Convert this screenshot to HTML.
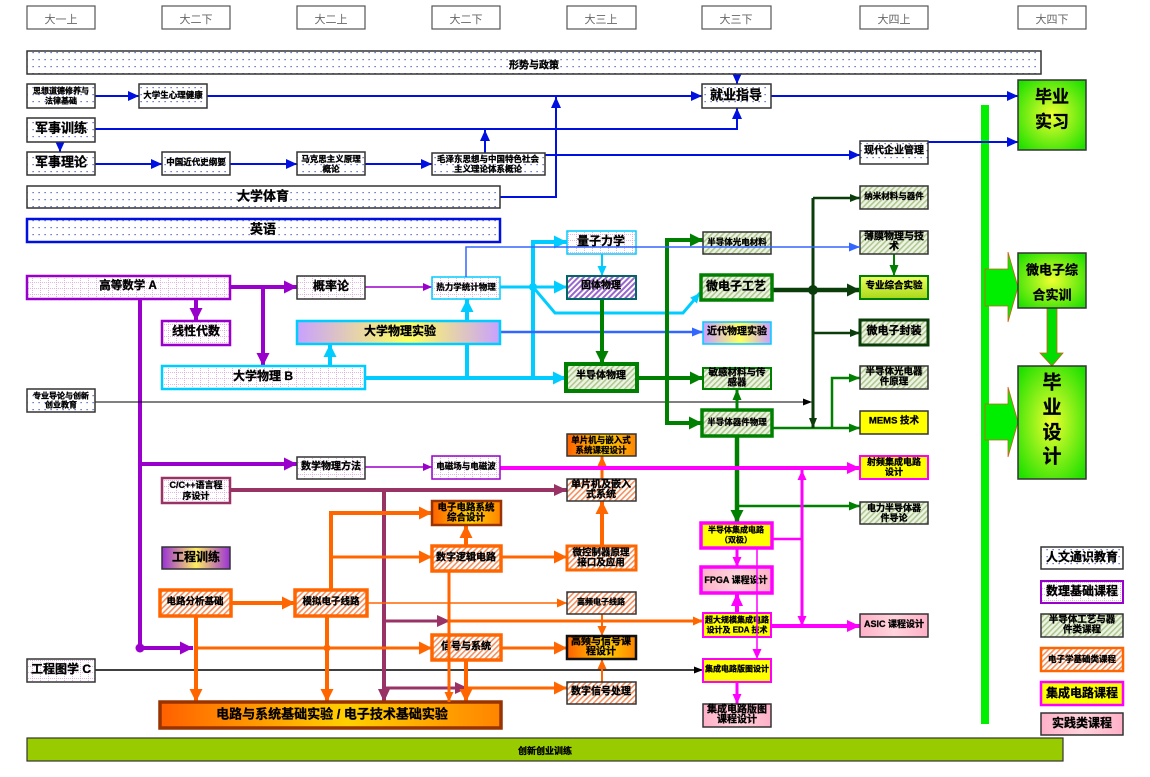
<!DOCTYPE html>
<html><head><meta charset="utf-8">
<style>
html,body{margin:0;padding:0;background:#fff;}
svg{display:block;}
text{font-family:"Liberation Sans","Noto Sans CJK SC","WenQuanYi Zen Hei",sans-serif;font-weight:bold;text-anchor:middle;dominant-baseline:central;fill:#000;stroke:#000;stroke-width:0.3px;}
.h{font-weight:normal;fill:#666;stroke:none;font-size:11px;}
</style></head><body>
<svg width="1150" height="777" viewBox="0 0 1150 777" xmlns="http://www.w3.org/2000/svg">
<defs>
<pattern id="dots" width="6" height="7" patternUnits="userSpaceOnUse"><rect width="6" height="7" fill="#fff"/><rect x="2.5" y="3" width="1.2" height="1.2" fill="#4050b0"/></pattern>
<pattern id="grid" width="8" height="6" patternUnits="userSpaceOnUse"><rect width="8" height="6" fill="#fff"/><path d="M0,0.5H8M0.5,0V6" stroke="#e0a0e0" stroke-width="0.8" stroke-dasharray="1,1"/></pattern>
<pattern id="gs" width="4" height="4" patternUnits="userSpaceOnUse" patternTransform="rotate(45)"><rect width="4" height="4" fill="#eef4e4"/><rect width="1.6" height="4" fill="#b0c890"/></pattern>
<pattern id="os" width="4" height="4" patternUnits="userSpaceOnUse" patternTransform="rotate(45)"><rect width="4" height="4" fill="#fff"/><rect width="1.6" height="4" fill="#f39060"/></pattern>
<pattern id="ps" width="4" height="4" patternUnits="userSpaceOnUse" patternTransform="rotate(45)"><rect width="4" height="4" fill="#fff"/><rect width="2" height="4" fill="#9966cc"/></pattern>
<radialGradient id="gg" cx="50%" cy="50%" r="65%"><stop offset="0" stop-color="#f0ff30"/><stop offset="1" stop-color="#20e000"/></radialGradient>
<linearGradient id="py"><stop offset="0" stop-color="#c8a0ff"/><stop offset=".55" stop-color="#ffff60"/><stop offset="1" stop-color="#c8a0ff"/></linearGradient>
<linearGradient id="pyd"><stop offset="0" stop-color="#9a30d8"/><stop offset=".5" stop-color="#ffee60"/><stop offset="1" stop-color="#9a30d8"/></linearGradient>
<linearGradient id="oy"><stop offset="0" stop-color="#ff6000"/><stop offset=".55" stop-color="#ffd000"/><stop offset="1" stop-color="#ff8400"/></linearGradient>
<linearGradient id="yg" x1="0" y1="0" x2="0" y2="1"><stop offset="0" stop-color="#eeff60"/><stop offset="1" stop-color="#a8d818"/></linearGradient>
<linearGradient id="pk"><stop offset="0" stop-color="#ffb0c8"/><stop offset=".5" stop-color="#ffd4dc"/><stop offset="1" stop-color="#ffb0c8"/></linearGradient>

<marker id="aB" viewBox="0 0 10 10" refX="10" refY="5" markerWidth="11" markerHeight="10" markerUnits="userSpaceOnUse" orient="auto" preserveAspectRatio="none"><path d="M0,0L10,5L0,10z" fill="#0010e0"/></marker>
<marker id="aP" viewBox="0 0 10 10" refX="10" refY="5" markerWidth="13" markerHeight="13" markerUnits="userSpaceOnUse" orient="auto" preserveAspectRatio="none"><path d="M0,0L10,5L0,10z" fill="#9900cc"/></marker>
<marker id="aPs" viewBox="0 0 10 10" refX="10" refY="5" markerWidth="9" markerHeight="8" markerUnits="userSpaceOnUse" orient="auto" preserveAspectRatio="none"><path d="M0,0L10,5L0,10z" fill="#9900cc"/></marker>
<marker id="aC" viewBox="0 0 10 10" refX="10" refY="5" markerWidth="13" markerHeight="13" markerUnits="userSpaceOnUse" orient="auto" preserveAspectRatio="none"><path d="M0,0L10,5L0,10z" fill="#00ccff"/></marker>
<marker id="aCs" viewBox="0 0 10 10" refX="10" refY="5" markerWidth="10" markerHeight="9" markerUnits="userSpaceOnUse" orient="auto" preserveAspectRatio="none"><path d="M0,0L10,5L0,10z" fill="#00ccff"/></marker>
<marker id="aL" viewBox="0 0 10 10" refX="10" refY="5" markerWidth="11" markerHeight="9" markerUnits="userSpaceOnUse" orient="auto" preserveAspectRatio="none"><path d="M0,0L10,5L0,10z" fill="#3366ff"/></marker>
<marker id="aG" viewBox="0 0 10 10" refX="10" refY="5" markerWidth="13" markerHeight="13" markerUnits="userSpaceOnUse" orient="auto" preserveAspectRatio="none"><path d="M0,0L10,5L0,10z" fill="#008000"/></marker>
<marker id="aGs" viewBox="0 0 10 10" refX="10" refY="5" markerWidth="11" markerHeight="9" markerUnits="userSpaceOnUse" orient="auto" preserveAspectRatio="none"><path d="M0,0L10,5L0,10z" fill="#008000"/></marker>
<marker id="aD" viewBox="0 0 10 10" refX="10" refY="5" markerWidth="13" markerHeight="13" markerUnits="userSpaceOnUse" orient="auto" preserveAspectRatio="none"><path d="M0,0L10,5L0,10z" fill="#0a3d0a"/></marker>
<marker id="aDs" viewBox="0 0 10 10" refX="10" refY="5" markerWidth="10" markerHeight="8" markerUnits="userSpaceOnUse" orient="auto" preserveAspectRatio="none"><path d="M0,0L10,5L0,10z" fill="#0a3d0a"/></marker>
<marker id="aK" viewBox="0 0 10 10" refX="10" refY="5" markerWidth="9" markerHeight="7" markerUnits="userSpaceOnUse" orient="auto" preserveAspectRatio="none"><path d="M0,0L10,5L0,10z" fill="#000"/></marker>
<marker id="aM" viewBox="0 0 10 10" refX="10" refY="5" markerWidth="13" markerHeight="12" markerUnits="userSpaceOnUse" orient="auto" preserveAspectRatio="none"><path d="M0,0L10,5L0,10z" fill="#993366"/></marker>
<marker id="aO" viewBox="0 0 10 10" refX="10" refY="5" markerWidth="13" markerHeight="13" markerUnits="userSpaceOnUse" orient="auto" preserveAspectRatio="none"><path d="M0,0L10,5L0,10z" fill="#ff6600"/></marker>
<marker id="aOs" viewBox="0 0 10 10" refX="10" refY="5" markerWidth="10" markerHeight="9" markerUnits="userSpaceOnUse" orient="auto" preserveAspectRatio="none"><path d="M0,0L10,5L0,10z" fill="#ff6600"/></marker>
<marker id="aMg" viewBox="0 0 10 10" refX="10" refY="5" markerWidth="13" markerHeight="12" markerUnits="userSpaceOnUse" orient="auto" preserveAspectRatio="none"><path d="M0,0L10,5L0,10z" fill="#ff00ff"/></marker>
<marker id="aMgs" viewBox="0 0 10 10" refX="10" refY="5" markerWidth="10" markerHeight="9" markerUnits="userSpaceOnUse" orient="auto" preserveAspectRatio="none"><path d="M0,0L10,5L0,10z" fill="#ff00ff"/></marker>
</defs>

<!-- header -->
<g fill="#fff" stroke="#555" stroke-width="1.2">
<rect x="27" y="6" width="68" height="23"/><rect x="162" y="6" width="68" height="23"/><rect x="297" y="6" width="68" height="23"/><rect x="432" y="6" width="68" height="23"/><rect x="567" y="6" width="69" height="23"/><rect x="702" y="6" width="69" height="23"/><rect x="860" y="6" width="68" height="23"/><rect x="1018" y="6" width="68" height="23"/>
</g>
<text class="h" x="61" y="20">大一上</text><text class="h" x="196" y="20">大二下</text><text class="h" x="331" y="20">大二上</text><text class="h" x="466" y="20">大二下</text><text class="h" x="601" y="20">大三上</text><text class="h" x="736" y="20">大三下</text><text class="h" x="894" y="20">大四上</text><text class="h" x="1052" y="20">大四下</text>

<!-- green bar + block arrows -->
<rect x="981" y="105" width="8" height="619" fill="#00ee00"/>
<polygon points="985,269 1008,269 1008,252 1018,287 1008,322 1008,306 985,306" fill="#00ee00" stroke="#d06010" stroke-width="0.8"/>
<polygon points="985,404 1008,404 1008,387 1018,422 1008,457 1008,440 985,440" fill="#00ee00" stroke="#d06010" stroke-width="0.8"/>
<polygon points="1047,308 1057,308 1057,353 1063,353 1052,366 1040,353 1047,353" fill="#00dd00" stroke="#d06010" stroke-width="0.8"/>

<!-- blue lines -->
<g fill="none" stroke="#0010e0" stroke-width="2">
<path d="M95,96H139" marker-end="url(#aB)"/>
<path d="M207,96H702" marker-end="url(#aB)"/>
<path d="M771,96H1018" marker-end="url(#aB)"/>
<path d="M737,74V84" marker-end="url(#aB)"/>
<path d="M95,129H737V108" marker-end="url(#aB)"/>
<path d="M485,153V130" marker-end="url(#aB)"/>
<path d="M60,142V152" marker-end="url(#aB)"/>
<path d="M95,164H162" marker-end="url(#aB)"/>
<path d="M230,164H297" marker-end="url(#aB)"/>
<path d="M365,164H432" marker-end="url(#aB)"/>
<path d="M545,155H860" marker-end="url(#aB)"/>
<path d="M928,142H1018" marker-end="url(#aB)"/>
<path d="M500,197H556V97" marker-end="url(#aB)"/>
</g>

<!-- purple -->
<g fill="none" stroke="#9900cc" stroke-width="4">
<path d="M230,287H297" marker-end="url(#aP)"/>
<path d="M263,287V366" marker-end="url(#aP)"/>
<path d="M196,299V321" marker-end="url(#aP)"/>
<path d="M140,299V648H193" marker-end="url(#aP)"/>
<path d="M140,464H297" marker-end="url(#aP)"/>
</g>
<circle cx="140" cy="648" r="4.5" fill="#9900cc"/>
<g fill="none" stroke="#9900cc" stroke-width="1.5">
<path d="M365,287H432" marker-end="url(#aPs)"/>
<path d="M365,467H432" marker-end="url(#aPs)"/>
</g>

<!-- black -->
<path d="M95,402H812" fill="none" stroke="#000" stroke-width="1" marker-end="url(#aK)"/>
<path d="M95,670H703" fill="none" stroke="#000" stroke-width="1.5" marker-end="url(#aK)"/>

<!-- cyan -->
<g fill="none" stroke="#00ccff" stroke-width="4">
<path d="M365,378H566" marker-end="url(#aC)"/>
<path d="M330,366V344" marker-end="url(#aC)"/>
<path d="M467,378V299" marker-end="url(#aC)"/>
<path d="M533,378V242H567" marker-end="url(#aC)"/>
</g>
<g fill="none" stroke="#00ccff" stroke-width="3">
<path d="M500,287H567" marker-end="url(#aC)"/>
<path d="M533,287L555,313H683L700,293" marker-end="url(#aCs)"/>
</g>
<circle cx="533" cy="287" r="4" fill="#00ccff"/>
<path d="M602,254V276" fill="none" stroke="#00ccff" stroke-width="2" marker-end="url(#aCs)"/>

<!-- light blue -->
<path d="M500,332H703" fill="none" stroke="#3366ff" stroke-width="2.5" marker-end="url(#aL)"/>

<!-- green -->
<g fill="none" stroke="#008000" stroke-width="4">
<path d="M602,299V364" marker-end="url(#aG)"/>
<path d="M637,378H703" marker-end="url(#aG)"/>
<path d="M667,300V240H703" marker-end="url(#aG)"/>
<path d="M667,240V423H702" marker-end="url(#aG)"/>
<path d="M737,436V523" marker-end="url(#aG)" stroke-width="4.5"/>
</g>
<g fill="none" stroke="#008000" stroke-width="2.5">
<path d="M737,410V389" marker-end="url(#aGs)" stroke-width="3"/>
<path d="M737,506H860" marker-end="url(#aGs)"/>
<path d="M772,428H860" marker-end="url(#aGs)"/>
<path d="M832,428V378H860" marker-end="url(#aGs)"/>
<path d="M894,254V276" marker-end="url(#aGs)" stroke-width="2"/>
</g>
<!-- dark green -->
<g fill="none" stroke="#0a3d0a">
<path d="M772,290H860" stroke-width="4.5" marker-end="url(#aD)"/>
<path d="M813,198V428" stroke-width="3" marker-end="url(#aDs)"/>
<path d="M813,198H860" stroke-width="2.5" marker-end="url(#aDs)"/>
<path d="M813,333H860" stroke-width="2.5" marker-end="url(#aDs)"/>
</g>
<circle cx="813" cy="290" r="5" fill="#0a3d0a"/>

<!-- maroon -->
<g fill="none" stroke="#993366" stroke-width="4">
<path d="M230,490H567" marker-end="url(#aM)"/>
<path d="M384,490V702" marker-end="url(#aM)"/>
<path d="M384,621H450" stroke-width="3" marker-end="url(#aM)"/>
<path d="M384,688H468" stroke-width="3" marker-end="url(#aM)"/>
</g>

<!-- orange -->
<g fill="none" stroke="#ff6600" stroke-width="4">
<path d="M231,603H295" marker-end="url(#aO)"/>
<path d="M196,616V702" marker-end="url(#aO)"/>
<path d="M327,616V702" marker-end="url(#aO)"/>
<path d="M331,590V513H432" marker-end="url(#aO)"/>
<path d="M466,546V525" marker-end="url(#aO)"/>
<path d="M602,546V501" marker-end="url(#aO)"/>
<path d="M466,660V702" marker-end="url(#aO)"/>
</g>
<g fill="none" stroke="#ff6600" stroke-width="3">
<path d="M196,648H432" marker-end="url(#aO)"/>
<path d="M331,557H432" marker-end="url(#aO)"/>
<path d="M501,557H567" marker-end="url(#aO)"/>
<path d="M602,479V456" marker-end="url(#aOs)"/>
<path d="M450,621H703" marker-end="url(#aOs)"/>
<path d="M501,648H567" marker-end="url(#aO)"/>
<path d="M468,688H567" marker-end="url(#aO)"/>
<path d="M367,603H567" stroke-width="1.5" marker-end="url(#aOs)"/>
<path d="M602,614V636" stroke-width="2" marker-end="url(#aOs)"/>
<path d="M602,682V659" stroke-width="2" marker-end="url(#aOs)"/>
</g>
<circle cx="327" cy="648" r="3.5" fill="#ff6600"/>

<!-- magenta -->
<g fill="none" stroke="#ff00ff" stroke-width="4">
<path d="M500,468H860" marker-end="url(#aMg)"/>
<path d="M771,626H860" marker-end="url(#aMg)"/>
<path d="M737,613V593" marker-end="url(#aMg)"/>
</g>
<g fill="none" stroke="#ff00ff" stroke-width="3">
<path d="M802,539V470" marker-end="url(#aMgs)"/>
<path d="M802,539V626" marker-end="url(#aMgs)"/>
<path d="M772,539H802" stroke-width="2.5"/>
<path d="M737,548V567" marker-end="url(#aMgs)"/>
<path d="M737,682V704" marker-end="url(#aMgs)"/>
</g>

<!-- ===== boxes ===== -->
<rect x="27" y="51" width="1014" height="23" fill="url(#dots)" stroke="#333" stroke-width="1.5"/>
<text x="534" y="66" font-size="10">形势与政策</text>
<rect x="27" y="84" width="68" height="24" fill="url(#dots)" stroke="#333" stroke-width="1.5"/>
<text x="61" y="91" font-size="8">思想道德修养与</text><text x="61" y="101" font-size="8">法律基础</text>
<rect x="139" y="84" width="68" height="24" fill="url(#dots)" stroke="#333" stroke-width="1.5"/>
<text x="173" y="95" font-size="8.5">大学生心理健康</text>
<rect x="702" y="84" width="69" height="24" fill="url(#dots)" stroke="#333" stroke-width="1.5"/>
<text x="736" y="95" font-size="13">就业指导</text>
<rect x="27" y="118" width="68" height="24" fill="url(#dots)" stroke="#333" stroke-width="1.5"/>
<text x="61" y="128" font-size="13">军事训练</text>
<rect x="27" y="152" width="68" height="23" fill="url(#dots)" stroke="#333" stroke-width="1.5"/>
<text x="61" y="162" font-size="13">军事理论</text>
<rect x="162" y="152" width="68" height="23" fill="url(#dots)" stroke="#333" stroke-width="1.5"/>
<text x="196" y="162" font-size="8.5">中国近代史纲要</text>
<rect x="297" y="152" width="68" height="23" fill="url(#dots)" stroke="#333" stroke-width="1.5"/>
<text x="331" y="159" font-size="8.5">马克思主义原理</text><text x="331" y="169" font-size="8.5">概论</text>
<rect x="432" y="153" width="113" height="22" fill="url(#dots)" stroke="#333" stroke-width="1.5"/>
<text x="488" y="159" font-size="8.5">毛泽东思想与中国特色社会</text><text x="488" y="169" font-size="8.5">主义理论体系概论</text>
<rect x="860" y="141" width="68" height="23" fill="url(#dots)" stroke="#333" stroke-width="1.5"/>
<text x="894" y="151" font-size="10">现代企业管理</text>
<rect x="27" y="186" width="473" height="22" fill="url(#dots)" stroke="#333" stroke-width="1.5"/>
<text x="263" y="196" font-size="13">大学体育</text>
<rect x="27" y="219" width="473" height="23" fill="url(#dots)" stroke="#0010e0" stroke-width="2.5"/>
<text x="263" y="229" font-size="13">英语</text>

<rect x="1018" y="80" width="68" height="70" fill="url(#gg)" stroke="#333" stroke-width="1.5"/>
<text x="1052" y="97" font-size="17">毕业</text><text x="1052" y="122" font-size="17">实习</text>

<rect x="27" y="276" width="203" height="23" fill="url(#grid)" stroke="#9900cc" stroke-width="2.5"/>
<text x="128" y="286" font-size="11.5">高等数学 A</text>
<rect x="297" y="276" width="68" height="23" fill="url(#grid)" stroke="#333" stroke-width="1.5"/>
<text x="331" y="286" font-size="12">概率论</text>
<rect x="162" y="321" width="68" height="24" fill="url(#grid)" stroke="#9900cc" stroke-width="2.5"/>
<text x="196" y="331" font-size="12">线性代数</text>
<rect x="297" y="321" width="203" height="23" fill="url(#py)" stroke="#00ccff" stroke-width="2.5"/>
<text x="400" y="331" font-size="12">大学物理实验</text>
<rect x="162" y="366" width="203" height="23" fill="url(#grid)" stroke="#00ccff" stroke-width="2.5"/>
<text x="263" y="376" font-size="12">大学物理 B</text>
<rect x="27" y="389" width="68" height="23" fill="url(#dots)" stroke="#333" stroke-width="1.5"/>
<text x="61" y="396" font-size="8">专业导论与创新</text><text x="61" y="405" font-size="8">创业教育</text>
<rect x="432" y="277" width="68" height="22" fill="url(#grid)" stroke="#00ccff" stroke-width="1.5"/>
<text x="466" y="287" font-size="8.5">热力学统计物理</text>
<rect x="567" y="231" width="69" height="23" fill="url(#grid)" stroke="#00ccff" stroke-width="1.5"/>
<text x="601" y="241" font-size="12">量子力学</text>
<rect x="567" y="276" width="69" height="23" fill="url(#ps)" stroke="#006666" stroke-width="2"/>
<text x="601" y="286" font-size="10">固体物理</text>
<rect x="566" y="364" width="71" height="27" fill="url(#gs)" stroke="#008000" stroke-width="4"/>
<text x="601" y="376" font-size="10">半导体物理</text>

<rect x="703" y="232" width="68" height="22" fill="url(#gs)" stroke="#333" stroke-width="1.5"/>
<text x="737" y="242" font-size="8.5">半导体光电材料</text>
<rect x="701" y="275" width="71" height="25" fill="url(#gs)" stroke="#008000" stroke-width="3.5"/>
<text x="736" y="286" font-size="12">微电子工艺</text>
<rect x="703" y="322" width="68" height="22" fill="url(#py)" stroke="#00ccff" stroke-width="1.5"/>
<text x="737" y="332" font-size="10">近代物理实验</text>
<rect x="703" y="368" width="68" height="21" fill="url(#gs)" stroke="#008000" stroke-width="2"/>
<text x="737" y="373" font-size="9.5">敏感材料与传</text><text x="737" y="383" font-size="9.5">感器</text>
<rect x="702" y="410" width="70" height="26" fill="url(#gs)" stroke="#008000" stroke-width="3.5"/>
<text x="737" y="422" font-size="8.5">半导体器件物理</text>

<rect x="860" y="186" width="68" height="23" fill="url(#gs)" stroke="#333" stroke-width="1.5"/>
<text x="894" y="196" font-size="8.5">纳米材料与器件</text>
<rect x="860" y="231" width="68" height="23" fill="url(#gs)" stroke="#333" stroke-width="1.5"/>
<text x="894" y="237" font-size="10">薄膜物理与技</text><text x="894" y="247" font-size="10">术</text>
<rect x="860" y="276" width="68" height="23" fill="url(#yg)" stroke="#008000" stroke-width="2"/>
<text x="894" y="286" font-size="9.5">专业综合实验</text>
<rect x="860" y="320" width="68" height="25" fill="url(#gs)" stroke="#0a3d0a" stroke-width="3"/>
<text x="894" y="331" font-size="11">微电子封装</text>
<rect x="860" y="366" width="68" height="23" fill="url(#gs)" stroke="#333" stroke-width="1.5"/>
<text x="894" y="372" font-size="9.5">半导体光电器</text><text x="894" y="382" font-size="9.5">件原理</text>
<rect x="860" y="411" width="68" height="23" fill="#ffff00" stroke="#333" stroke-width="1.5"/>
<text x="894" y="421" font-size="9.5">MEMS 技术</text>

<rect x="1018" y="253" width="68" height="55" fill="url(#gg)" stroke="#333" stroke-width="1.5"/>
<text x="1052" y="270" font-size="13">微电子综</text><text x="1052" y="295" font-size="13">合实训</text>
<rect x="1018" y="366" width="68" height="113" fill="url(#gg)" stroke="#333" stroke-width="1.5"/>
<text x="1052" y="383" font-size="19">毕</text><text x="1052" y="408" font-size="19">业</text><text x="1052" y="433" font-size="19">设</text><text x="1052" y="457" font-size="19">计</text>

<rect x="297" y="457" width="68" height="22" fill="url(#grid)" stroke="#333" stroke-width="1.5"/>
<text x="331" y="467" font-size="10">数学物理方法</text>
<rect x="432" y="456" width="68" height="23" fill="url(#grid)" stroke="#9900cc" stroke-width="1.5"/>
<text x="466" y="466" font-size="8.5">电磁场与电磁波</text>
<rect x="567" y="434" width="69" height="22" fill="url(#oy)" stroke="#333" stroke-width="1.5"/>
<text x="601" y="440" font-size="8.5">单片机与嵌入式</text><text x="601" y="450" font-size="8.5">系统课程设计</text>
<rect x="860" y="456" width="68" height="23" fill="#ffff00" stroke="#ff00ff" stroke-width="2"/>
<text x="894" y="462" font-size="9">射频集成电路</text><text x="894" y="472" font-size="9">设计</text>
<rect x="162" y="478" width="68" height="25" fill="url(#grid)" stroke="#993366" stroke-width="2.5"/>
<text x="196" y="485" font-size="9">C/C++语言程</text><text x="196" y="496" font-size="9">序设计</text>
<rect x="567" y="479" width="69" height="22" fill="url(#os)" stroke="#333" stroke-width="1.5"/>
<text x="601" y="485" font-size="10">单片机及嵌入</text><text x="601" y="495" font-size="10">式系统</text>
<rect x="860" y="502" width="68" height="22" fill="url(#gs)" stroke="#333" stroke-width="1.5"/>
<text x="894" y="508" font-size="9">电力半导体器</text><text x="894" y="518" font-size="9">件导论</text>
<rect x="432" y="501" width="69" height="24" fill="url(#oy)" stroke="#993300" stroke-width="2.5"/>
<text x="466" y="508" font-size="9.5">电子电路系统</text><text x="466" y="518" font-size="9.5">综合设计</text>
<rect x="162" y="547" width="68" height="22" fill="url(#pyd)" stroke="#333" stroke-width="1.5"/>
<text x="196" y="557" font-size="12">工程训练</text>
<rect x="432" y="546" width="69" height="25" fill="url(#os)" stroke="#ff6600" stroke-width="3.5"/>
<text x="466" y="558" font-size="10">数字逻辑电路</text>
<rect x="567" y="546" width="69" height="24" fill="url(#os)" stroke="#ff6600" stroke-width="3"/>
<text x="601" y="553" font-size="9.5">微控制器原理</text><text x="601" y="563" font-size="9.5">接口及应用</text>
<rect x="701" y="523" width="71" height="25" fill="#ffff00" stroke="#ff00ff" stroke-width="3.5"/>
<text x="736" y="530" font-size="8">半导体集成电路</text><text x="736" y="540" font-size="8">（双极）</text>
<rect x="701" y="567" width="71" height="26" fill="url(#pk)" stroke="#ff00ff" stroke-width="3.5"/>
<text x="736" y="580" font-size="9">FPGA 课程设计</text>
<rect x="160" y="590" width="71" height="26" fill="url(#os)" stroke="#ff6600" stroke-width="3.5"/>
<text x="195" y="602" font-size="9.5">电路分析基础</text>
<rect x="295" y="590" width="72" height="26" fill="url(#os)" stroke="#ff6600" stroke-width="3.5"/>
<text x="331" y="602" font-size="9.5">模拟电子线路</text>
<rect x="567" y="592" width="69" height="22" fill="url(#os)" stroke="#333" stroke-width="1.5"/>
<text x="601" y="602" font-size="8">高频电子线路</text>
<rect x="703" y="613" width="68" height="24" fill="#ffff00" stroke="#ff00ff" stroke-width="2"/>
<text x="737" y="620" font-size="8">超大规模集成电路</text><text x="737" y="630" font-size="8">设计及 EDA 技术</text>
<rect x="860" y="614" width="68" height="23" fill="url(#pk)" stroke="#333" stroke-width="1.5"/>
<text x="894" y="624" font-size="9">ASIC 课程设计</text>
<rect x="432" y="635" width="69" height="25" fill="url(#os)" stroke="#ff6600" stroke-width="3.5"/>
<text x="466" y="647" font-size="10">信号与系统</text>
<rect x="567" y="636" width="69" height="23" fill="url(#oy)" stroke="#111" stroke-width="2.5"/>
<text x="601" y="642" font-size="10">高频与信号课</text><text x="601" y="652" font-size="10">程设计</text>
<rect x="703" y="659" width="68" height="23" fill="#ffff00" stroke="#ff00ff" stroke-width="2"/>
<text x="737" y="669" font-size="8">集成电路版图设计</text>
<rect x="27" y="659" width="68" height="23" fill="url(#grid)" stroke="#333" stroke-width="1.5"/>
<text x="61" y="669" font-size="12">工程图学 C</text>
<rect x="567" y="682" width="69" height="22" fill="url(#os)" stroke="#333" stroke-width="1.5"/>
<text x="601" y="692" font-size="10">数字信号处理</text>
<rect x="703" y="704" width="68" height="23" fill="url(#pk)" stroke="#333" stroke-width="1.5"/>
<text x="737" y="710" font-size="10">集成电路版图</text><text x="737" y="720" font-size="10">课程设计</text>
<rect x="160" y="702" width="341" height="26" fill="url(#oy)" stroke="#993300" stroke-width="3.5"/>
<text x="332" y="714" font-size="13">电路与系统基础实验 / 电子技术基础实验</text>
<rect x="27" y="738" width="1036" height="23" fill="#99cc00" stroke="#333" stroke-width="1.2"/>
<text x="545" y="751" font-size="9">创新创业训练</text>

<!-- legend -->
<rect x="1041" y="547" width="82" height="22" fill="url(#dots)" stroke="#333" stroke-width="1.5"/>
<text x="1082" y="557" font-size="12">人文通识教育</text>
<rect x="1041" y="581" width="82" height="22" fill="url(#grid)" stroke="#9900cc" stroke-width="2"/>
<text x="1082" y="591" font-size="12">数理基础课程</text>
<rect x="1041" y="614" width="82" height="23" fill="url(#gs)" stroke="#333" stroke-width="1.5"/>
<text x="1082" y="620" font-size="9.5">半导体工艺与器</text><text x="1082" y="630" font-size="9.5">件类课程</text>
<rect x="1041" y="648" width="82" height="23" fill="url(#os)" stroke="#ff6600" stroke-width="2.5"/>
<text x="1082" y="659" font-size="8.5">电子学基础类课程</text>
<rect x="1041" y="682" width="82" height="23" fill="#ffff00" stroke="#ff00ff" stroke-width="2.5"/>
<text x="1082" y="693" font-size="12">集成电路课程</text>
<rect x="1041" y="713" width="82" height="22" fill="url(#pk)" stroke="#333" stroke-width="1.5"/>
<text x="1082" y="723" font-size="12">实践类课程</text>

<!-- overlay lines -->
<path d="M466,277V247H860" fill="none" stroke="#3366ff" stroke-width="1.5" marker-end="url(#aL)"/>
<path d="M757,548V659" fill="none" stroke="#ff00ff" stroke-width="1.5" marker-end="url(#aMgs)"/>
<path d="M449,571V702" fill="none" stroke="#ff6600" stroke-width="3" marker-end="url(#aOs)"/>
</svg>
</body></html>
